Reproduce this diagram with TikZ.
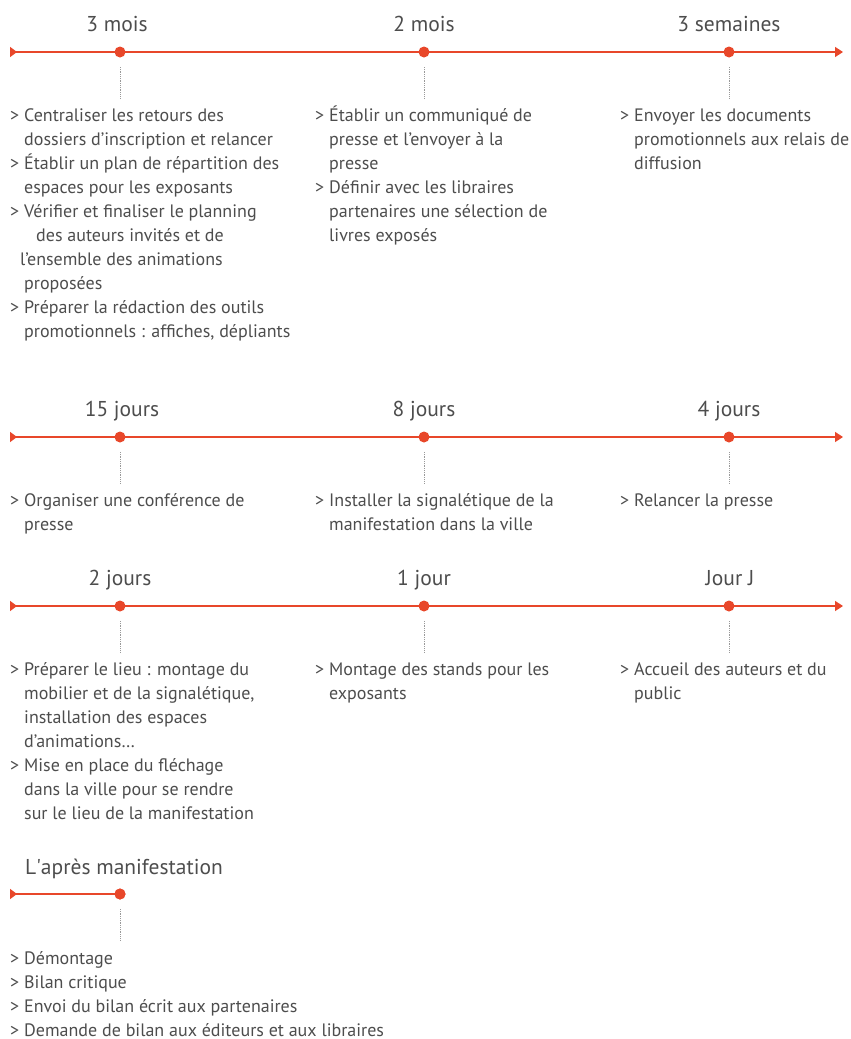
\documentclass[tikz,border=0pt]{standalone}
\usepackage{fontspec}
\setmainfont{PT Sans}
\usetikzlibrary{arrows.meta}

\definecolor{tlorange}{HTML}{E8472A}
\definecolor{txtgray}{HTML}{4D4D4D}

\newcommand\puce{\makebox[14pt][l]{>}}
\newcommand\suite{\hspace*{14pt}}

\tikzset{
  timeline/.style={draw=tlorange, line width=1.5pt,
    {Triangle[reversed,length=7pt,width=10pt]}-{Triangle[length=8pt,width=10pt]}},
  stub/.style={draw=tlorange, line width=1.5pt, {Triangle[reversed,length=7pt,width=10pt]}-},
  stamp/.style={circle, fill=tlorange, inner sep=0pt, minimum size=11pt},
  tick/.style={draw=gray!80, densely dotted, line width=0.8pt},
  delay/.style={anchor=base, inner sep=0pt, font=\fontsize{21.5}{24}\selectfont, text=txtgray},
  tasks/.style={anchor=north west, align=left, inner sep=0pt,
    font=\fontsize{18}{24}\selectfont, text=txtgray},
}

\begin{document}
\begin{tikzpicture}[x=1pt,y=-1pt]
  \useasboundingbox (0,0) rectangle (851,1039);

  % --- 3 mois / 2 mois / 3 semaines
  \coordinate (s1) at (10,52);
  \coordinate (e1) at (843,52);
  \draw[timeline] (s1) -- (e1);
  \node (a1)[stamp] at (120,52) {};
  \node (a2)[stamp] at (424,52) {};
  \node (a3)[stamp] at (729,52) {};
  \node (la1)[delay] at (117,31) {3 mois};
  \node (la2)[delay] at (424,31) {2 mois};
  \node (la3)[delay] at (729,31) {3 semaines};
  \draw[tick] ([yshift=-15pt]a1.center) -- ([yshift=-46pt]a1.center);
  \draw[tick] ([yshift=-15pt]a2.center) -- ([yshift=-46pt]a2.center);
  \draw[tick] ([yshift=-15pt]a3.center) -- ([yshift=-46pt]a3.center);
  \node (ta1)[tasks] at (10,104) {\strut\puce Centraliser les retours des\\
    \suite dossiers d’inscription et relancer\\
    \puce Établir un plan de répartition des\\
    \suite espaces pour les exposants\\
    \puce Vérifier et finaliser le planning\\
    \hspace*{26pt}des auteurs invités et de\\
    \hspace*{10pt}l’ensemble des animations\\
    \suite proposées\\
    \puce Préparer la rédaction des outils\\
    \suite promotionnels : affiches, dépliants};
  \node (ta2)[tasks] at (315,104) {\strut\puce Établir un communiqué de\\
    \suite presse et l’envoyer à la\\
    \suite presse\\
    \puce Définir avec les libraires\\
    \suite partenaires une sélection de\\
    \suite livres exposés};
  \node (ta3)[tasks] at (620,104) {\strut\puce Envoyer les documents\\
    \suite promotionnels aux relais de\\
    \suite diffusion};

  % --- 15 jours / 8 jours / 4 jours
  \coordinate (s2) at (10,437);
  \coordinate (e2) at (843,437);
  \draw[timeline] (s2) -- (e2);
  \node (b1)[stamp] at (120,437) {};
  \node (b2)[stamp] at (424,437) {};
  \node (b3)[stamp] at (729,437) {};
  \node (lb1)[delay] at (122,416) {15 jours};
  \node (lb2)[delay] at (424,416) {8 jours};
  \node (lb3)[delay] at (729,416) {4 jours};
  \draw[tick] ([yshift=-15pt]b1.center) -- ([yshift=-46pt]b1.center);
  \draw[tick] ([yshift=-15pt]b2.center) -- ([yshift=-46pt]b2.center);
  \draw[tick] ([yshift=-15pt]b3.center) -- ([yshift=-46pt]b3.center);
  \node (tb1)[tasks] at (10,489) {\strut\puce Organiser une conférence de\\
    \suite presse};
  \node (tb2)[tasks] at (315,489) {\strut\puce Installer la signalétique de la\\
    \suite manifestation dans la ville};
  \node (tb3)[tasks] at (620,489) {\strut\puce Relancer la presse};

  % --- 2 jours / 1 jour / Jour J
  \coordinate (s3) at (10,606);
  \coordinate (e3) at (843,606);
  \draw[timeline] (s3) -- (e3);
  \node (c1)[stamp] at (120,606) {};
  \node (c2)[stamp] at (424,606) {};
  \node (c3)[stamp] at (729,606) {};
  \node (lc1)[delay] at (120,585) {2 jours};
  \node (lc2)[delay] at (424,585) {1 jour};
  \node (lc3)[delay] at (730,585) {Jour J};
  \draw[tick] ([yshift=-15pt]c1.center) -- ([yshift=-46pt]c1.center);
  \draw[tick] ([yshift=-15pt]c2.center) -- ([yshift=-46pt]c2.center);
  \draw[tick] ([yshift=-15pt]c3.center) -- ([yshift=-46pt]c3.center);
  \node (tc1)[tasks] at (10,658) {\strut\puce Préparer le lieu : montage du\\
    \suite mobilier et de la signalétique,\\
    \suite installation des espaces\\
    \suite d’animations…\\
    \puce Mise en place du fléchage\\
    \suite dans la ville pour se rendre\\
    \suite sur le lieu de la manifestation};
  \node (tc2)[tasks] at (315,658) {\strut\puce Montage des stands pour les\\
    \suite exposants};
  \node (tc3)[tasks] at (620,658) {\strut\puce Accueil des auteurs et du\\
    \suite public};

  % --- apres
  \coordinate (s4) at (10,894);
  \node (d1)[stamp] at (120,894) {};
  \draw[stub] (s4) -- (d1.center);
  \node (d1)[stamp] at (120,894) {};
  \node (ld1)[delay] at (124,874) {L\textquotesingle après manifestation};
  \draw[tick] ([yshift=-15pt]d1.center) -- ([yshift=-46pt]d1.center);
  \node (td1)[tasks] at (10,947) {\strut\puce Démontage\\
    \puce Bilan critique\\
    \puce Envoi du bilan écrit aux partenaires\\
    \puce Demande de bilan aux éditeurs et aux libraires};
\end{tikzpicture}
\end{document}
